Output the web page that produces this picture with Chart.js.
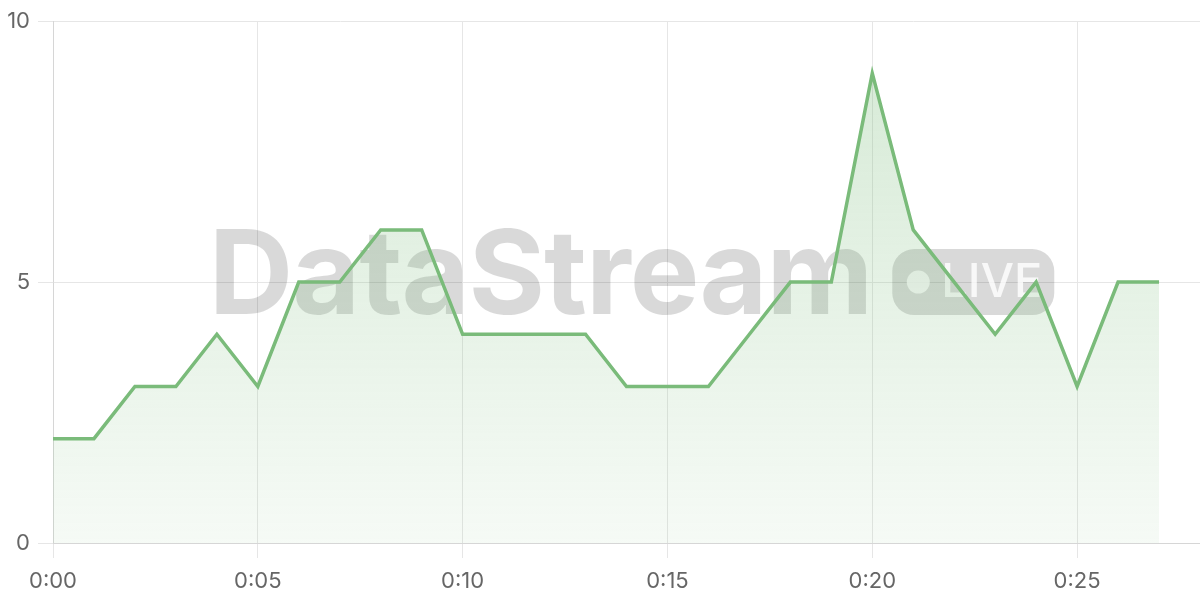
<!DOCTYPE html>
<html>
<head>
<meta charset="utf-8">
<script src="https://cdn.jsdelivr.net/npm/chart.js@4/dist/chart.umd.min.js"></script>
<style>
  html, body { margin: 0; padding: 0; background: #fff; }
  #wrap { width: 1200px; height: 600px; }
</style>
</head>
<body>
<div id="wrap"><canvas id="streamChart"></canvas></div>
<script>
// --- data ---
const minutes = [0, 1, 2, 3, 4, 5, 6, 7, 8, 9, 10, 11, 12, 13, 14, 15, 16, 17, 18, 19, 20, 21, 22, 23, 24, 25, 26, 27];
const values  = [2, 2, 3, 3, 4, 3, 5, 5, 6, 6, 4, 4, 4, 4, 3, 3, 3, 4, 5, 5, 9, 6, 5, 4, 5, 3, 5, 5];
const xTickMinutes = [0, 5, 10, 15, 20, 25];
const xTickLabels = ['0:00', '0:05', '0:10', '0:15', '0:20', '0:25'];
const yTicks = [0, 5, 10];

const GREEN = 'rgb(122, 187, 122)';

// watermark behind the line
const watermark = {
    id: 'watermark',
    beforeDatasetsDraw(chart) {
        const { ctx, chartArea } = chart;
        const cx = (chartArea.left + chartArea.right) / 2;
        const cy = (chartArea.top + chartArea.bottom) / 2;
        ctx.save();
        ctx.font = 'bold 117px Inter';
        ctx.letterSpacing = '-1px';
        const textW = ctx.measureText('DataStream').width;
        const badgeW = 162, badgeH = 66, gap = 20;
        const total = textW + gap + badgeW;
        const x0 = cx - total / 2 + 5;

        ctx.fillStyle = 'rgba(0, 0, 0, 0.15)';
        ctx.textBaseline = 'alphabetic';
        ctx.fillText('DataStream', x0, cy + 32);

        const bx = x0 + textW + gap, by = cy - badgeH / 2;
        ctx.beginPath();
        ctx.roundRect(bx, by, badgeW, badgeH, 22);
        ctx.fill();

        ctx.fillStyle = 'rgba(255, 255, 255, 0.8)';
        ctx.beginPath();
        ctx.arc(bx + 26, cy, 11.5, 0, Math.PI * 2);
        ctx.fill();
        ctx.letterSpacing = '0px';
        ctx.font = '500 47px Inter';
        ctx.textBaseline = 'middle';
        ctx.fillText('LIVE', bx + 49, cy + 1);
        ctx.restore();
    }
};

const canvas = document.getElementById('streamChart');

new Chart(canvas, {
    type: 'line',
    data: {
        datasets: [{
            data: minutes.map((m, i) => ({ x: m, y: values[i] })),
            borderColor: GREEN,
            borderWidth: 3.5,
            pointRadius: 0,
            tension: 0,
            fill: 'origin',
            backgroundColor: (c) => {
                const area = c.chart.chartArea;
                if (!area) return 'rgba(122,187,122,0.2)';
                const g = c.chart.ctx.createLinearGradient(0, area.top, 0, area.bottom);
                g.addColorStop(0, 'rgba(122, 187, 122, 0.32)');
                g.addColorStop(1, 'rgba(122, 187, 122, 0.07)');
                return g;
            }
        }]
    },
    options: {
        responsive: true,
        maintainAspectRatio: false,
        animation: false,
        layout: { padding: { top: 10, right: 0, left: 0, bottom: 0 } },
        plugins: { legend: { display: false }, tooltip: { enabled: false } },
        scales: {
            x: {
                type: 'linear',
                min: 0,
                max: 28,
                afterBuildTicks: (axis) => { axis.ticks = xTickMinutes.map(v => ({ value: v })); },
                afterFit: (axis) => { axis.height = 57; },
                grid: { color: '#e6e6e6', tickLength: 15, lineWidth: 1 },
                border: { color: '#d6d6d6' },
                ticks: {
                    color: '#666',
                    font: { family: 'Inter', size: 22 },
                    padding: 10,
                    maxRotation: 0,
                    callback: (v) => xTickLabels[xTickMinutes.indexOf(v)]
                }
            },
            y: {
                min: 0,
                max: 10,
                afterBuildTicks: (axis) => { axis.ticks = yTicks.map(v => ({ value: v })); },
                afterFit: (axis) => { axis.width = 53; },
                grid: { color: '#e6e6e6', tickLength: 15, lineWidth: 1 },
                border: { color: '#d6d6d6' },
                ticks: {
                    color: '#666',
                    font: { family: 'Inter', size: 22 },
                    padding: 8
                }
            }
        }
    },
    plugins: [watermark]
});
</script>
</body>
</html>
